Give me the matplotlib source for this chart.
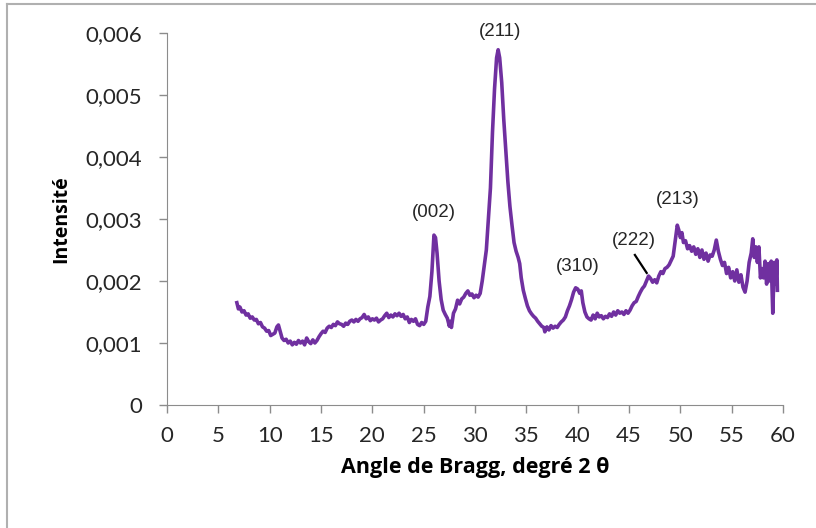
import matplotlib.pyplot as plt
from matplotlib.lines import Line2D

# diffractogram, 2 theta (deg) vs intensity
angle = [6.8, 6.95, 7.1, 7.3, 7.5, 7.7, 7.9, 8.1, 8.3, 8.5, 8.7, 8.9, 9.1, 9.3, 9.5, 9.7,
         9.9, 10.1, 10.3, 10.5, 10.7, 10.85, 11.0, 11.2, 11.4, 11.6, 11.8, 12.0, 12.2, 12.4,
         12.6, 12.8, 13.0, 13.2, 13.4, 13.6, 13.8, 14.0, 14.2, 14.4, 14.6, 14.8, 15.0, 15.2,
         15.4, 15.6, 15.8, 16.0, 16.2, 16.4, 16.6, 16.8, 17.0, 17.2, 17.4, 17.6, 17.8, 18.0,
         18.2, 18.4, 18.6, 18.8, 19.0, 19.2, 19.4, 19.6, 19.8, 20.0, 20.2, 20.4, 20.6, 20.8,
         21.0, 21.2, 21.4, 21.6, 21.8, 22.0, 22.2, 22.4, 22.6, 22.8, 23.0, 23.2, 23.4, 23.6,
         23.8, 24.0, 24.2, 24.4, 24.6, 24.8, 25.0, 25.2, 25.4, 25.6, 25.8, 26.0, 26.15, 26.3,
         26.5, 26.7, 26.9, 27.1, 27.3, 27.5, 27.6, 27.7, 27.9, 28.1, 28.3, 28.5, 28.7, 28.9,
         29.1, 29.3, 29.5, 29.7, 29.9, 30.1, 30.3, 30.5, 30.7, 30.9, 31.1, 31.3, 31.5, 31.7,
         31.9, 32.1, 32.25, 32.4, 32.6, 32.8, 33.0, 33.2, 33.4, 33.6, 33.8, 34.0, 34.2, 34.35,
         34.5, 34.7, 34.9, 35.1, 35.3, 35.5, 35.7, 35.9, 36.1, 36.3, 36.5, 36.7, 36.8, 37.0,
         37.2, 37.4, 37.6, 37.8, 38.0, 38.2, 38.4, 38.6, 38.8, 39.0, 39.2, 39.4, 39.6, 39.8,
         40.0, 40.2, 40.35, 40.5, 40.7, 40.9, 41.1, 41.3, 41.5, 41.7, 41.9, 42.1, 42.3, 42.5,
         42.7, 42.9, 43.1, 43.3, 43.5, 43.7, 43.9, 44.1, 44.3, 44.5, 44.7, 44.9, 45.1, 45.3,
         45.5, 45.7, 45.9, 46.1, 46.3, 46.5, 46.7, 46.9, 47.1, 47.3, 47.5, 47.7, 47.9, 48.1,
         48.3, 48.5, 48.7, 48.9, 49.1, 49.3, 49.5, 49.7, 49.85, 50.0, 50.15, 50.3, 50.5, 50.7,
         50.9, 51.1, 51.3, 51.5, 51.7, 51.9, 52.1, 52.3, 52.5, 52.7, 52.9, 53.1, 53.3, 53.5,
         53.7, 53.9, 54.1, 54.3, 54.5, 54.7, 54.9, 55.1, 55.3, 55.5, 55.7, 55.9, 56.1, 56.3,
         56.5, 56.7, 56.9, 57.05, 57.2, 57.35, 57.5, 57.65, 57.8, 57.95, 58.1, 58.25, 58.4,
         58.55, 58.7, 58.85, 59.0, 59.15, 59.3, 59.4, 59.45]
intensite = [0.00165, 0.00155, 0.00158, 0.00150, 0.00152, 0.00145, 0.00147, 0.00140, 0.00142,
             0.00137, 0.00138, 0.00131, 0.00133, 0.00126, 0.00124, 0.00119, 0.00120, 0.00112,
             0.00114, 0.00116, 0.00126, 0.00129, 0.00120, 0.00108, 0.00104, 0.00106, 0.00100,
             0.00103, 0.00097, 0.00101, 0.00098, 0.00104, 0.00100, 0.00103, 0.00097, 0.00108,
             0.00102, 0.00099, 0.00105, 0.00100, 0.00104, 0.00110, 0.00115, 0.00119, 0.00117,
             0.00124, 0.00127, 0.00125, 0.00130, 0.00128, 0.00134, 0.00131, 0.00130, 0.00127,
             0.00132, 0.00130, 0.00135, 0.00137, 0.00134, 0.00138, 0.00135, 0.00139, 0.00141,
             0.00146, 0.00139, 0.00142, 0.00136, 0.00139, 0.00137, 0.00140, 0.00134, 0.00137,
             0.00139, 0.00144, 0.00148, 0.00141, 0.00145, 0.00142, 0.00147, 0.00144, 0.00148,
             0.00143, 0.00146, 0.00139, 0.00142, 0.00133, 0.00138, 0.00135, 0.00139, 0.00130,
             0.00128, 0.00133, 0.00130, 0.00135, 0.00158, 0.00175, 0.00215, 0.00274, 0.00270,
             0.00245, 0.00200, 0.00170, 0.00153, 0.00146, 0.00140, 0.00127, 0.00135, 0.00125,
             0.00148, 0.00155, 0.00169, 0.00163, 0.00171, 0.00174, 0.00180, 0.00184, 0.00177,
             0.00179, 0.00173, 0.00177, 0.00174, 0.00180, 0.00200, 0.00225, 0.00250, 0.00300,
             0.00350, 0.00440, 0.00510, 0.00560, 0.00573, 0.00560, 0.00520, 0.00460, 0.00410,
             0.00360, 0.00320, 0.00290, 0.00262, 0.00248, 0.00238, 0.00228, 0.00205, 0.00185,
             0.00172, 0.00160, 0.00152, 0.00147, 0.00143, 0.00140, 0.00135, 0.00131, 0.00127,
             0.00125, 0.00118, 0.00126, 0.00121, 0.00128, 0.00124, 0.00127, 0.00125, 0.00130,
             0.00134, 0.00137, 0.00142, 0.00152, 0.00160, 0.00170, 0.00182, 0.00189, 0.00187,
             0.00180, 0.00184, 0.00165, 0.00150, 0.00142, 0.00139, 0.00137, 0.00145, 0.00139,
             0.00148, 0.00142, 0.00144, 0.00139, 0.00143, 0.00141, 0.00147, 0.00143, 0.00150,
             0.00145, 0.00152, 0.00148, 0.00150, 0.00146, 0.00152, 0.00148, 0.00153, 0.00160,
             0.00165, 0.00167, 0.00175, 0.00182, 0.00188, 0.00192, 0.00200, 0.00208, 0.00204,
             0.00198, 0.00202, 0.00197, 0.00208, 0.00215, 0.00212, 0.00220, 0.00222, 0.00226,
             0.00233, 0.00240, 0.00265, 0.00290, 0.00282, 0.00270, 0.00278, 0.00262, 0.00265,
             0.00252, 0.00257, 0.00248, 0.00255, 0.00243, 0.00252, 0.00238, 0.00250, 0.00235,
             0.00245, 0.00232, 0.00242, 0.00240, 0.00250, 0.00266, 0.00248, 0.00235, 0.00225,
             0.00230, 0.00212, 0.00222, 0.00205, 0.00215, 0.00200, 0.00218, 0.00198, 0.00210,
             0.00190, 0.00182, 0.00200, 0.00230, 0.00245, 0.00268, 0.00238, 0.00255, 0.00230,
             0.00255, 0.00205, 0.00220, 0.00205, 0.00232, 0.00195, 0.00228, 0.00200, 0.00232,
             0.00148, 0.00230, 0.00195, 0.00234, 0.00185]

# Miller indices for the labelled reflections
pics = ['(002)', '(211)', '(310)', '(222)', '(213)']
pics_x = [26.0, 32.4, 40.0, 45.5, 49.7]
pics_y = [0.00311, 0.00603, 0.00224, 0.00266, 0.00331]

xticks = list(range(0, 61, 5))
yticks = [0, 0.001, 0.002, 0.003, 0.004, 0.005, 0.006]

fig = plt.figure(figsize=(8.16, 5.28), dpi=100)
ax = fig.add_axes([0.2047, 0.233, 0.7549, 0.7045])

ax.plot(angle, intensite, color='#7030A0', lw=2.6, solid_joinstyle='round')

for lab, px, py in zip(pics, pics_x, pics_y):
    ax.text(px, py, lab, ha='center', va='center', fontsize=13.5,
            family='Liberation Sans', color='#262626')
ax.plot([45.57, 46.72], [0.00242, 0.00213], color='black', lw=1.6)

ax.set_xlim(0, 60)
ax.set_ylim(0, 0.006)
ax.set_xticks(xticks)
ax.set_yticks(yticks)
ax.set_xticklabels([str(t) for t in xticks])
ax.set_yticklabels([('%.3f' % t).replace('.', ',') if t else '0' for t in yticks])
ax.tick_params(labelsize=16, colors='#8c8c8c', labelcolor='#262626', length=6, width=1)
ax.tick_params(axis='x', pad=9)
ax.tick_params(axis='y', pad=12)
for lab in ax.get_xticklabels() + ax.get_yticklabels():
    lab.set_family('Lato')

for s in ['top', 'right']:
    ax.spines[s].set_visible(False)
for s in ['left', 'bottom']:
    ax.spines[s].set_color('#8c8c8c')

ax.set_xlabel('Angle de Bragg, degré 2 θ', fontsize=15.5, fontweight='bold',
              family='Open Sans', labelpad=8)
ax.set_ylabel('Intensité', fontsize=14, fontweight='bold', family='Open Sans', labelpad=10)

# outer chart frame (left and top edges)
fig.lines.append(Line2D([7 / 816, 7 / 816], [0, 1 - 4 / 528], transform=fig.transFigure,
                        color='#b0b0b0', lw=1.5))
fig.lines.append(Line2D([7 / 816, 1], [1 - 4 / 528, 1 - 4 / 528], transform=fig.transFigure,
                        color='#b0b0b0', lw=1.5))

fig.savefig('out.png', dpi=100)
